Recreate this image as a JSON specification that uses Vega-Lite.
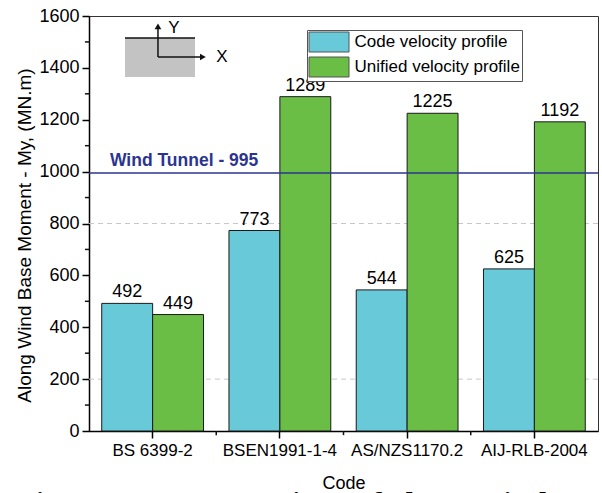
{
  "$schema": "https://vega.github.io/schema/vega-lite/v6.json",
  "width": 509,
  "height": 415,
  "autosize": "none",
  "padding": {"left": 89, "top": 16, "right": 4, "bottom": 62},
  "background": "white",
  "config": {
    "font": "Liberation Sans",
    "view": {"stroke": "#333", "strokeWidth": 1},
    "axis": {"labelColor": "black", "titleColor": "black", "domainColor": "black", "tickColor": "black", "domainWidth": 1.5, "tickWidth": 1.5, "titleFontWeight": "normal", "labelFont": "Liberation Sans", "titleFont": "Liberation Sans"},
    "axisY": {"grid": false, "labelFontSize": 18, "titleFontSize": 19, "tickSize": 7, "labelPadding": 3, "titlePadding": 4, "titleY": 219}
  },
  "title": {"text": "Figure 10 – Comparison of along Wind Base Moment", "orient": "bottom", "anchor": "start", "font": "Liberation Serif", "fontWeight": "bold", "fontSize": 32, "offset": -3, "color": "black"},
  "datasets": {
    "bars": [
      {"code": "BS 6399-2", "profile": "Code velocity profile", "value": 492},
      {"code": "BS 6399-2", "profile": "Unified velocity profile", "value": 449},
      {"code": "BSEN1991-1-4", "profile": "Code velocity profile", "value": 773},
      {"code": "BSEN1991-1-4", "profile": "Unified velocity profile", "value": 1289},
      {"code": "AS/NZS1170.2", "profile": "Code velocity profile", "value": 544},
      {"code": "AS/NZS1170.2", "profile": "Unified velocity profile", "value": 1225},
      {"code": "AIJ-RLB-2004", "profile": "Code velocity profile", "value": 625},
      {"code": "AIJ-RLB-2004", "profile": "Unified velocity profile", "value": 1192}
    ]
  },
  "resolve": {"scale": {"x": "independent"}, "axis": {"x": "independent"}},
  "layer": [
    {
      "data": {"values": [{"g": 200}, {"g": 800}]},
      "mark": {"type": "rule", "color": "#c8c8c8", "strokeDash": [5, 4], "strokeWidth": 1},
      "encoding": {"y": {"field": "g", "type": "quantitative", "axis": {"title": "Along Wind Base Moment - My, (MN.m)", "format": "d", "values": [0, 200, 400, 600, 800, 1000, 1200, 1400, 1600]}}}
    },
    {
      "layer": [
        {
          "data": {"name": "bars"},
          "mark": {"type": "bar", "stroke": "#1a1a1a", "strokeWidth": 1},
          "encoding": {
            "x": {"field": "code", "type": "nominal", "sort": ["BS 6399-2", "BSEN1991-1-4", "AS/NZS1170.2", "AIJ-RLB-2004"], "scale": {"paddingInner": 0.2, "paddingOuter": 0.1}, "axis": {"title": "Code", "labelAngle": 0, "labelFontSize": 17, "titleFontSize": 18, "tickSize": 7, "labelPadding": 4, "titlePadding": 16}},
            "xOffset": {"field": "profile", "type": "nominal", "scale": {"paddingInner": 0, "paddingOuter": 0}},
            "y": {"field": "value", "type": "quantitative", "scale": {"domain": [0, 1600], "nice": false}, "axis": {"title": "Along Wind Base Moment - My, (MN.m)", "format": "d", "values": [0, 200, 400, 600, 800, 1000, 1200, 1400, 1600]}},
            "color": {"field": "profile", "type": "nominal", "scale": {"range": ["#68c9d9", "#6abd45"]}, "legend": {"title": null, "orient": "none", "legendX": 218, "legendY": 14, "symbolType": "M-1,-1H3V1H-1Z", "symbolSize": 400, "symbolStrokeColor": "#555", "symbolStrokeWidth": 1, "symbolOpacity": 1, "labelFontSize": 17, "labelColor": "black", "labelOffset": 25, "rowPadding": 0, "padding": 1.5, "strokeColor": "#555", "fillColor": "white", "labelLimit": 400}}
          }
        },
        {
          "data": {"name": "bars"},
          "mark": {"type": "text", "fontSize": 18, "baseline": "alphabetic", "dy": -6, "color": "black"},
          "encoding": {
            "x": {"field": "code", "type": "nominal", "sort": ["BS 6399-2", "BSEN1991-1-4", "AS/NZS1170.2", "AIJ-RLB-2004"], "axis": {"title": "Code", "labelAngle": 0, "labelFontSize": 17, "titleFontSize": 18, "tickSize": 7, "labelPadding": 4, "titlePadding": 16}},
            "xOffset": {"field": "profile", "type": "nominal"},
            "y": {"field": "value", "type": "quantitative", "axis": {"title": "Along Wind Base Moment - My, (MN.m)", "format": "d", "values": [0, 200, 400, 600, 800, 1000, 1200, 1400, 1600]}},
            "text": {"field": "value", "type": "quantitative"}
          }
        }
      ]
    },
    {
      "data": {"values": [{"w": 995}]},
      "mark": {"type": "rule", "color": "#2b3590", "strokeWidth": 1.5},
      "encoding": {"y": {"field": "w", "type": "quantitative", "axis": {"title": "Along Wind Base Moment - My, (MN.m)", "format": "d", "values": [0, 200, 400, 600, 800, 1000, 1200, 1400, 1600]}}}
    },
    {
      "layer": [
        {
          "data": {"values": [{"x": 0.283, "x2": 0.833, "y": 1365, "y2": 1515}]},
          "mark": {"type": "rect", "color": "#c3c3c3"},
          "encoding": {
            "x": {"field": "x", "type": "quantitative", "scale": {"domain": [0, 4], "nice": false, "zero": false}, "axis": null},
            "x2": {"field": "x2"},
            "y": {"field": "y", "type": "quantitative", "axis": {"title": "Along Wind Base Moment - My, (MN.m)", "format": "d", "values": [0, 200, 400, 600, 800, 1000, 1200, 1400, 1600]}},
            "y2": {"field": "y2"}
          }
        },
        {
          "data": {"values": [
            {"x": 0.283, "x2": 0.833, "y": 1515, "y2": 1515},
            {"x": 0.542, "x2": 0.542, "y": 1442, "y2": 1550},
            {"x": 0.542, "x2": 0.88, "y": 1442, "y2": 1442},
            {"x": 1, "x2": 1, "y": 0, "y2": -16},
            {"x": 2, "x2": 2, "y": 0, "y2": -16},
            {"x": 3, "x2": 3, "y": 0, "y2": -16},
            {"x": -0.032, "x2": 0, "y": 100, "y2": 100},
            {"x": -0.032, "x2": 0, "y": 300, "y2": 300},
            {"x": -0.032, "x2": 0, "y": 500, "y2": 500},
            {"x": -0.032, "x2": 0, "y": 700, "y2": 700},
            {"x": -0.032, "x2": 0, "y": 900, "y2": 900},
            {"x": -0.032, "x2": 0, "y": 1100, "y2": 1100},
            {"x": -0.032, "x2": 0, "y": 1300, "y2": 1300},
            {"x": -0.032, "x2": 0, "y": 1500, "y2": 1500}
          ]},
          "mark": {"type": "rule", "color": "#111", "strokeWidth": 1.5},
          "encoding": {
            "x": {"field": "x", "type": "quantitative", "axis": null},
            "x2": {"field": "x2"},
            "y": {"field": "y", "type": "quantitative", "axis": {"title": "Along Wind Base Moment - My, (MN.m)", "format": "d", "values": [0, 200, 400, 600, 800, 1000, 1200, 1400, 1600]}},
            "y2": {"field": "y2"}
          }
        },
        {
          "data": {"values": [
            {"x": 0.542, "y": 1560, "s": "triangle-up"},
            {"x": 0.895, "y": 1442, "s": "triangle-right"}
          ]},
          "mark": {"type": "point", "filled": true, "color": "#111", "size": 45, "opacity": 1},
          "encoding": {
            "x": {"field": "x", "type": "quantitative", "axis": null},
            "y": {"field": "y", "type": "quantitative", "axis": {"title": "Along Wind Base Moment - My, (MN.m)", "format": "d", "values": [0, 200, 400, 600, 800, 1000, 1200, 1400, 1600]}},
            "shape": {"field": "s", "type": "nominal", "scale": {"domain": ["triangle-up", "triangle-right"], "range": ["triangle-up", "triangle-right"]}, "legend": null}
          }
        },
        {
          "data": {"values": [
            {"x": 0.668, "y": 1554, "t": "Y"},
            {"x": 1.045, "y": 1442, "t": "X"}
          ]},
          "mark": {"type": "text", "baseline": "middle", "align": "center", "fontSize": 17, "color": "black"},
          "encoding": {
            "x": {"field": "x", "type": "quantitative", "axis": null},
            "y": {"field": "y", "type": "quantitative", "axis": {"title": "Along Wind Base Moment - My, (MN.m)", "format": "d", "values": [0, 200, 400, 600, 800, 1000, 1200, 1400, 1600]}},
            "text": {"field": "t"}
          }
        },
        {
          "data": {"values": [{"x": 0.165, "y": 1022, "t": "Wind Tunnel - 995"}]},
          "mark": {"type": "text", "baseline": "alphabetic", "align": "left", "fontSize": 17.5, "fontWeight": "bold", "color": "#2b3590"},
          "encoding": {
            "x": {"field": "x", "type": "quantitative", "axis": null},
            "y": {"field": "y", "type": "quantitative", "axis": {"title": "Along Wind Base Moment - My, (MN.m)", "format": "d", "values": [0, 200, 400, 600, 800, 1000, 1200, 1400, 1600]}},
            "text": {"field": "t"}
          }
        }
      ]
    }
  ]
}
